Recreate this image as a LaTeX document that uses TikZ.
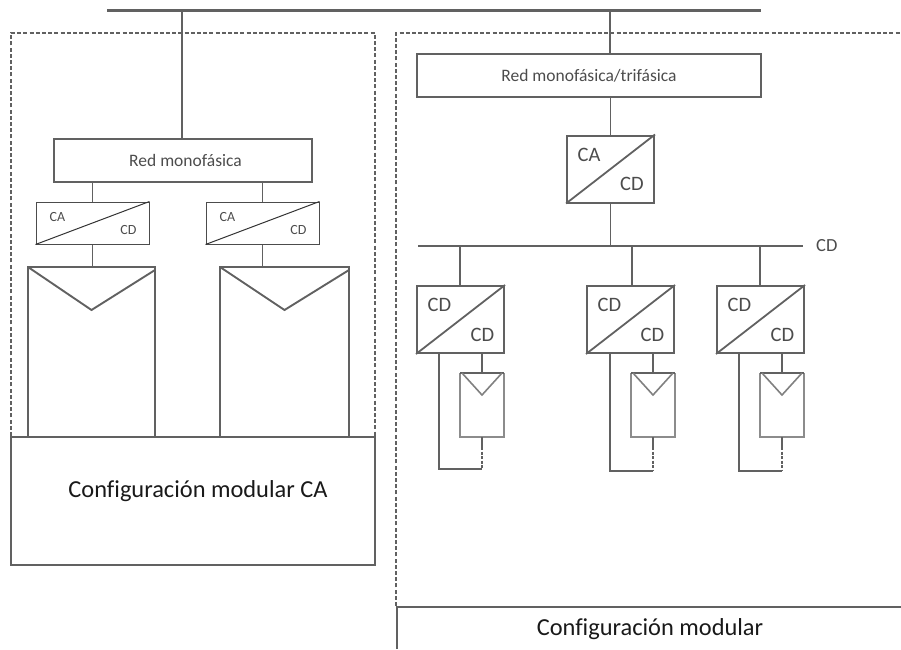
\documentclass[tikz,border=0pt]{standalone}
\usepackage{fontspec}
\setmainfont{Carlito}[Ligatures=NoCommon]
\usetikzlibrary{positioning}
\definecolor{linegray}{gray}{0.38}
\definecolor{textgray}{gray}{0.3}
\tikzset{
    wire/.style={line width=1.9pt, linegray},
    dashbox/.style={line width=1.7pt, dashed, dash pattern=on 4pt off 2.2pt, linegray},
    redbox/.style={draw=linegray, line width=1.9pt, minimum height=43pt, inner sep=0pt, font=\fontsize{17.5}{20}\selectfont, text=textgray},
    confbox/.style={draw=linegray, line width=1.8pt, inner sep=0pt},
    conftext/.style={font=\fontsize{24.4}{28}\selectfont, text=black!90, inner sep=0pt},
    convsmall/.style={draw=black!70, line width=1pt, minimum width=113pt, minimum height=42pt, inner sep=0pt},
    convbig/.style={draw=linegray, line width=2pt, minimum width=87pt, minimum height=67pt, inner sep=0pt},
    tagsmall/.style={font=\fontsize{14}{16}\selectfont, text=textgray, inner sep=0pt},
    tagbig/.style={font=\fontsize{20.5}{24}\selectfont, text=textgray, inner sep=0pt}
}
\begin{document}
\begin{tikzpicture}[x=1pt, y=-1pt]
    \useasboundingbox (0,0) rectangle (901,649);
    % Bus and dashed frames
    \coordinate (busL) at (107,10.5);
    \coordinate (busR) at (761,10.5);
    \coordinate (tapA) at (182,10.5);
    \coordinate (tapB) at (610,10.5);
    \draw[line width=2.2pt, linegray] (busL) -- (busR);
    \draw[dashbox] (11,436) -- (11,33) -- (375,33) -- (375,436);
    \draw[dashbox] (396,606) -- (396,33) -- (901,33);

    % Left side
    \node[redbox, minimum width=258pt] (redA) at (183,160.5) {\hspace*{5pt}Red monofásica};
    \draw[wire] (tapA) -- (tapA |- redA.north);
    \node[confbox, minimum width=364pt, minimum height=128pt] (confA) at (193,501) {};
    \node[conftext] (confAtext) at (198,491) {Configuración modular CA};
    \foreach \name/\x/\px/\pw in {a/92.5/91.5/127, b/262.5/284.5/129} {
        \node[convsmall] (conv\name) at (\x,223) {};
        \draw[black!80, line width=1pt] (conv\name.south west) -- (conv\name.north east);
        \node[tagsmall] (ca\name) at (\x-35,217) {CA};
        \node[tagsmall] (cd\name) at (\x+36,230) {CD};
        \draw[wire] (conv\name.north) -- (conv\name.north |- redA.south);
        \coordinate (pnl\name) at (\px,267);
        \draw[wire] (\px-\pw/2,436) -- (\px-\pw/2,267) -- (\px+\pw/2,267) -- (\px+\pw/2,436);
        \draw[wire] (\px-\pw/2,267) -- (\px,310) -- (\px+\pw/2,270);
        \draw[wire] (conv\name.south) -- (conv\name.south |- pnl\name);
    }

    % Right side
    \node[redbox, minimum width=344pt] (redB) at (589,75.5) {Red monofásica/trifásica};
    \draw[wire] (tapB) -- (tapB |- redB.north);
    \node[convbig] (convM) at (610.5,169) {};
    \draw[linegray, line width=1.8pt] (convM.south west) -- (convM.north east);
    \node[tagbig] (caM) at (589,155) {CA};
    \node[tagbig] (cdM) at (632,184) {CD};
    \draw[wire] (redB.south -| convM.north) -- (convM.north);
    \coordinate (cdL) at (418,245.5);
    \coordinate (cdR) at (803,245.5);
    \draw[line width=2pt, linegray] (cdL) -- (cdR);
    \node[tagbig, font=\fontsize{18.5}{22}\selectfont, right=13pt of cdR] (cdlabel) {CD};
    \draw[wire] (convM.south) -- (convM.south |- cdL);
    \foreach \name/\x/\tap/\ret/\pc/\low in {c/460.5/460/439/482/469, d/630.5/632/610/653/471, e/760.5/760/739/782/471} {
        \node[convbig] (conv\name) at (\x,319.5) {};
        \draw[linegray, line width=1.8pt] (conv\name.south west) -- (conv\name.north east);
        \node[tagbig] (ca\name) at (\x-21,305) {CD};
        \node[tagbig] (cd\name) at (\x+22,335) {CD};
        \draw[wire] (\tap,245.5) -- (conv\name.north -| \tap,245.5);
        % Small panel
        \draw[line width=1.7pt, black!45] (\pc-22,373) -- (\pc-22,437) -- (\pc+22,437) -- (\pc+22,373);
        \draw[line width=1.9pt, linegray] (\pc-22,373) -- (\pc+22,373);
        \draw[line width=1.6pt, black!50] (\pc-20,373) -- (\pc,395) -- (\pc+20,373);
        \draw[wire] (\pc,353) -- (\pc,373);
        % Return loop
        \draw[wire] (\ret,353) -- (\ret,\low) -- (\pc,\low);
        \draw[wire] (\pc,437) -- (\pc,447);
        \draw[line width=1.6pt, linegray, dashed, dash pattern=on 3pt off 1.5pt] (\pc,447) -- (\pc,\low);
    }

    % Right label box
    \draw[line width=1.8pt, linegray] (397,649) -- (397,607) -- (901,607);
    \node[conftext] (confB) at (650,629) {Configuración modular};
\end{tikzpicture}
\end{document}
